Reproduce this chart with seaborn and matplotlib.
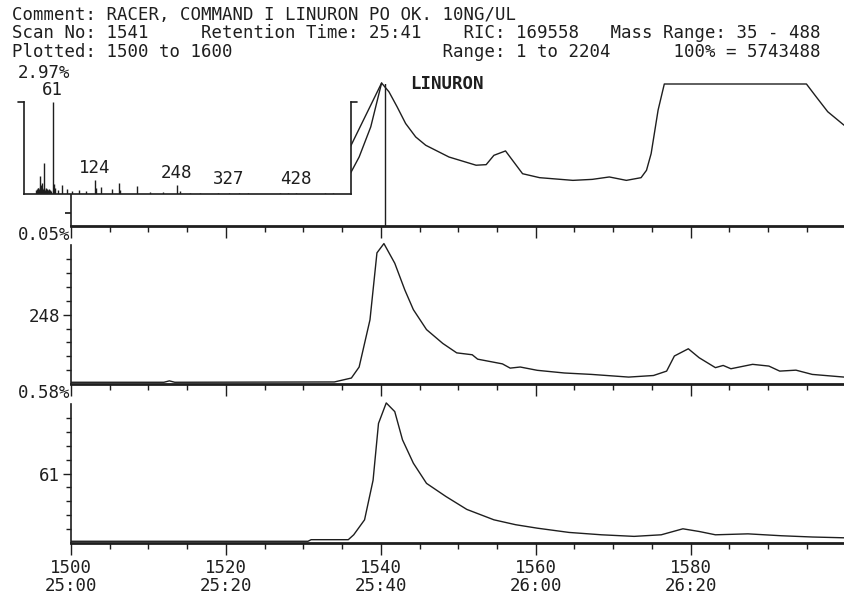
import numpy as np
import seaborn as sns
import matplotlib.pyplot as plt
from matplotlib.ticker import MultipleLocator, FixedLocator

# header text
comment = "Comment: RACER, COMMAND I LINURON PO OK. 10NG/UL"
scan_no = 1541
ret_time = "25:41"
ric_total = 169558
mass_range = (35, 488)
plotted = (1500, 1600)
range_txt = (1, 2204)
full_scale = 5743488
compound = "LINURON"

# RIC trace (percent of full scale)
ric_scan = [1536.1, 1537.2, 1538.7, 1540.1, 1541.05, 1542.1, 1543.2, 1544.5, 1545.8,
            1548.8, 1552.3, 1553.6, 1554.6, 1556.1, 1557.0, 1558.3, 1560.5, 1564.8,
            1567.3, 1569.5, 1571.7, 1573.6, 1574.3, 1574.9, 1575.8, 1576.6, 1594.95,
            1596.2, 1597.7, 1599.8]
ric_pct = [37.1, 48.4, 69.7, 100.7, 94.5, 83.9, 72.1, 62.6, 56.7,
           48.4, 42.6, 43.0, 49.6, 52.7, 46.1, 36.6, 33.8, 31.9,
           32.6, 34.3, 31.9, 33.8, 39.0, 50.8, 81.6, 100.0, 100.0,
           91.0, 80.4, 70.9]
ric_alt_scan = [1536.1, 1540.1]
ric_alt_pct = [56.0, 100.7]
marker_scan = 1540.5

# mass spectrum of scan 1541
spec_mz = [36, 37, 38, 39, 40, 41, 42, 43, 44, 45, 46, 47, 48, 49, 50, 51, 52, 53, 54, 55,
           56, 57, 58, 61, 63, 65, 69, 75, 82, 90, 100, 111, 124, 126, 134, 150, 161, 163,
           188, 208, 228, 248, 253, 268, 283, 311, 327, 342, 355, 404, 416, 428, 472, 484]
spec_pct = [4, 5, 6, 7, 5, 8, 19, 10, 6, 12, 5, 34, 6, 4, 7, 5, 4, 5, 4, 5,
            4, 4, 3, 100, 11, 6, 4, 10, 5, 3, 4, 3, 15, 6, 8, 5, 12, 4,
            9, 2, 2, 10, 3, 1.5, 1.5, 1.5, 1.5, 1.5, 1.5, 1.5, 1.5, 1.5, 1.5, 1.2]
spec_labels = [61, 124, 248, 327, 428]

# mass chromatogram m/z 248 (0.05%)
mid_mass, mid_scale = 248, "0.05%"
mid_scan = [1500, 1512, 1512.7, 1513.4, 1534, 1536.2, 1537.2, 1538.6, 1539.5, 1540.4,
            1541.8, 1543.1, 1544.2, 1545.9, 1548.0, 1549.8, 1551.8, 1552.5, 1555.7,
            1556.7, 1558.0, 1560.2, 1563.7, 1567.2, 1572.0, 1575.2, 1576.9, 1577.9,
            1579.7, 1581.1, 1583.2, 1584.2, 1585.2, 1588.0, 1590.1, 1591.5, 1593.6,
            1595.7, 1599.8]
mid_pct = [0.3, 0.3, 1.2, 0.3, 0.5, 3, 10, 40, 82.6, 88.5,
           76, 59, 46.5, 33.8, 25, 19, 17.8, 15, 12,
           9.3, 10, 7.9, 6.2, 5.3, 3.6, 4.6, 7.4, 17,
           21.6, 15.9, 9.6, 11, 8.9, 11.7, 10.6, 7.4, 8,
           5.3, 3.6]

# mass chromatogram m/z 61 (0.58%)
bot_mass, bot_scale = 61, "0.58%"
bot_scan = [1500, 1530.6, 1531, 1535.8, 1536.5, 1537.9, 1539.0, 1539.7, 1540.7, 1541.8,
            1542.8, 1544.2, 1545.9, 1548.4, 1551.1, 1554.6, 1557.4, 1560.2, 1564.3,
            1568.5, 1572.7, 1576.2, 1579.0, 1581.1, 1583.2, 1587.4, 1591.7, 1595.7, 1599.8]
bot_pct = [0.3, 0.3, 1.3, 1.3, 4.4, 13.9, 39, 75, 88, 82.5,
           64.6, 49.8, 37, 28.7, 20.5, 13.9, 10.8, 8.6, 5.9,
           4.4, 3.4, 4.4, 8.2, 6.5, 4.4, 5.0, 3.8, 3.0, 2.5]

x_major = [1500, 1520, 1540, 1560, 1580]

sns.set_theme(style="white")
plt.rcParams["font.family"] = ["DejaVu Sans Mono", "DejaVu Sans"]
ink = "#1e1e1e"
fs = 12.5
plt.rcParams.update({"text.color": ink, "axes.edgecolor": ink,
                     "xtick.color": ink, "ytick.color": ink})

W, H = 844, 594
fig = plt.figure(figsize=(W / 100, H / 100), dpi=100)


def px_axes(left, top, right, bottom):
    return fig.add_axes([left / W, 1 - bottom / H, (right - left) / W, (bottom - top) / H])


ax_ric = px_axes(71, 84, 844, 225.5)
ax_mid = px_axes(71, 225.5, 844, 384)
ax_bot = px_axes(71, 384, 844, 543)
ax_spec = px_axes(24.3, 101.7, 351, 194)

for ax in (ax_ric, ax_mid, ax_bot):
    ax.set_facecolor("none")
    ax.set_xlim(1500, 1599.8)
    ax.xaxis.set_major_locator(FixedLocator(x_major))
    ax.xaxis.set_minor_locator(MultipleLocator(5))
    ax.tick_params(axis="x", which="major", direction="out", length=8.5, width=1,
                   bottom=True, top=False, labelbottom=False)
    ax.tick_params(axis="x", which="minor", direction="out", length=4.5, width=1,
                   bottom=True, top=False)
    ax.spines["top"].set_visible(False)
    ax.spines["right"].set_visible(False)
    ax.spines["bottom"].set_linewidth(2)
    ax.spines["left"].set_linewidth(1.2)
    ax.set_xlabel("")
    ax.set_ylabel("")

# RIC panel
ax_ric.set_ylim(0, 100)
sns.lineplot(x=ric_scan, y=ric_pct, ax=ax_ric, color=ink, lw=1, estimator=None, sort=False)
sns.lineplot(x=ric_alt_scan, y=ric_alt_pct, ax=ax_ric, color=ink, lw=1, estimator=None, sort=False)
for ln in ax_ric.lines:
    ln.set_clip_on(False)
ax_ric.vlines(marker_scan, 0, max(ric_pct), color=ink, lw=1)
ax_ric.spines["left"].set_bounds(0, 22.7)
ax_ric.yaxis.set_major_locator(FixedLocator([8.5]))
ax_ric.tick_params(axis="y", direction="out", length=4, left=True, labelleft=False)
ax_ric.text(0.5 * (1544 + 1553), 100, compound, ha="center", va="center",
            fontsize=fs, fontweight="bold")


def style_chrom(ax, scan, pct, mass, scale):
    ax.set_ylim(-0.8, 100)
    sns.lineplot(x=scan, y=pct, ax=ax, color=ink, lw=1, estimator=None, sort=False)
    ax.spines["left"].set_bounds(-0.8, 87.5)
    ticks = [43.2 + 8.8 * k for k in range(-4, 5)]
    ax.yaxis.set_major_locator(FixedLocator([43.2]))
    ax.yaxis.set_minor_locator(FixedLocator([t for t in ticks if abs(t - 43.2) > 1]))
    ax.set_yticklabels([str(mass)])
    ax.tick_params(axis="y", which="major", direction="out", length=6, width=1,
                   left=True, pad=2, labelsize=fs)
    ax.tick_params(axis="y", which="minor", direction="out", length=3.6, width=1, left=True)
    ax.text(-0.001, 1.0, scale, transform=ax.transAxes, ha="right", va="top", fontsize=fs)


style_chrom(ax_mid, mid_scan, mid_pct, mid_mass, mid_scale)
style_chrom(ax_bot, bot_scan, bot_pct, bot_mass, bot_scale)

ax_bot.set_xticks(x_major)
ax_bot.set_xticklabels([f"{s}\n{s // 60}:{s % 60:02d}" for s in x_major], linespacing=1.0)
ax_bot.tick_params(axis="x", which="major", labelbottom=True, labelsize=fs, pad=3)

# spectrum inset
ax_spec.set_facecolor("white")
ax_spec.set_xlim(18, 511)
ax_spec.set_ylim(0, 100)
ax_spec.vlines(spec_mz, 0, spec_pct, color=ink, lw=1)
ax_spec.set_xticks([])
ax_spec.set_yticks([])
ax_spec.spines["top"].set_visible(False)
for side in ("left", "right", "bottom"):
    ax_spec.spines[side].set_linewidth(1.2)
ax_spec.plot([-0.018, 0], [1, 1], transform=ax_spec.transAxes, color=ink, lw=1.2, clip_on=False)
ax_spec.plot([1, 1.018], [1, 1], transform=ax_spec.transAxes, color=ink, lw=1.2, clip_on=False)
for m in spec_labels:
    h = spec_pct[spec_mz.index(m)]
    ax_spec.annotate(str(m), (m, max(h, 4)), xytext=(0, 2), textcoords="offset points",
                     ha="center", va="bottom", fontsize=fs, annotation_clip=False)

# header
line1 = comment
line2 = (f"Scan No: {scan_no}     Retention Time: {ret_time}    RIC: {ric_total}   "
         f"Mass Range: {mass_range[0]} - {mass_range[1]}")
line3 = (f"Plotted: {plotted[0]} to {plotted[1]}" + " " * 20 +
         f"Range: {range_txt[0]} to {range_txt[1]}      100% = {full_scale}")
for txt, yc in ((line1, 15), (line2, 33), (line3, 52)):
    fig.text(12 / W, 1 - yc / H, txt, ha="left", va="center", fontsize=fs)
fig.text(70 / W, 1 - 73 / H, "2.97%", ha="right", va="center", fontsize=fs)

fig.savefig("out.png", dpi=100, facecolor="white")
